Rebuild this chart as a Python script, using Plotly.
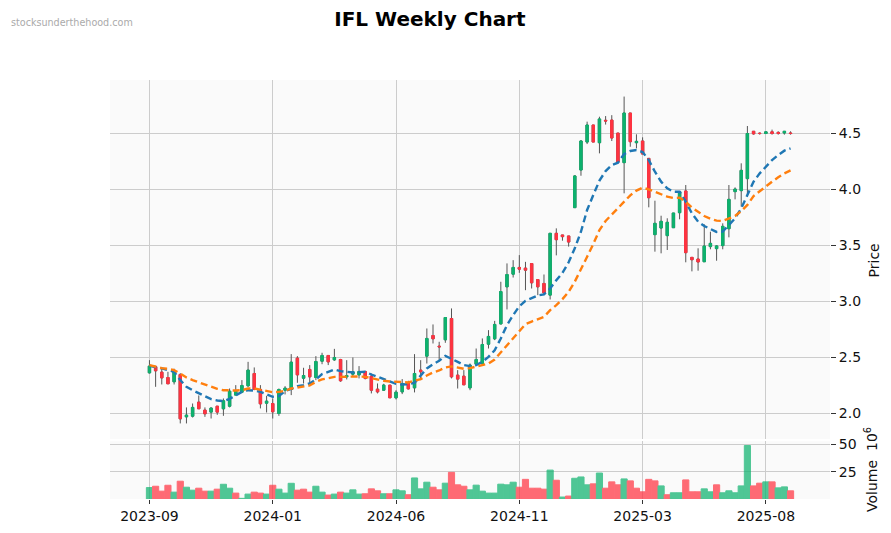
import plotly.graph_objects as go
from plotly.subplots import make_subplots

# weekly candles
opens = [2.363,2.417,2.369,2.321,2.283,2.348,1.970,1.976,2.101,2.030,
         2.012,2.065,2.042,2.065,2.164,2.190,2.247,2.357,2.214,2.092,
         2.089,2.000,2.208,2.214,2.494,2.315,2.393,2.321,2.467,2.518,
         2.479,2.482,2.327,2.351,2.345,2.375,2.333,2.217,2.208,2.253,
         2.140,2.193,2.274,2.229,2.387,2.512,2.696,2.601,2.658,2.848,
         2.342,2.333,2.229,2.440,2.446,2.619,2.667,2.800,3.131,3.244,
         3.304,3.298,3.339,3.196,3.161,3.057,3.609,3.594,3.585,3.838,
         4.174,4.424,4.576,4.418,4.618,4.620,4.504,4.240,4.683,4.418,
         4.433,4.278,3.597,3.656,3.588,3.659,3.793,3.987,3.394,3.379,
         3.355,3.490,3.472,3.499,3.650,3.981,3.990,4.097,4.520,4.503,
         4.500,4.515,4.510,4.505,4.505]
highs = [2.476,2.417,2.411,2.372,2.400,2.360,2.054,2.089,2.161,2.054,
         2.054,2.065,2.134,2.223,2.253,2.298,2.461,2.411,2.253,2.158,
         2.134,2.223,2.244,2.530,2.512,2.408,2.432,2.512,2.542,2.518,
         2.577,2.488,2.476,2.500,2.423,2.375,2.357,2.268,2.265,2.253,
         2.208,2.307,2.292,2.530,2.476,2.759,2.795,2.640,2.857,2.938,
         2.387,2.387,2.446,2.580,2.670,2.744,2.827,3.176,3.340,3.369,
         3.414,3.354,3.339,3.196,3.241,3.609,3.653,3.594,3.585,4.128,
         4.442,4.606,4.576,4.650,4.656,4.664,4.504,4.830,4.683,4.493,
         4.466,4.278,3.900,3.766,3.743,3.790,3.981,4.040,3.394,3.475,
         3.689,3.623,3.504,3.698,4.040,4.019,4.234,4.567,4.520,4.510,
         4.515,4.535,4.520,4.520,4.520]
lows = [2.357,2.238,2.259,2.265,2.259,1.911,1.911,1.964,2.042,1.970,
        1.955,1.988,1.979,2.054,2.164,2.190,2.238,2.208,2.045,2.009,
        1.955,1.979,2.170,2.164,2.274,2.268,2.274,2.298,2.440,2.432,
        2.470,2.283,2.304,2.333,2.313,2.304,2.179,2.179,2.202,2.140,
        2.125,2.173,2.214,2.188,2.298,2.446,2.625,2.476,2.631,2.313,
        2.223,2.256,2.208,2.432,2.432,2.580,2.655,2.795,2.929,3.214,
        3.256,3.101,3.116,3.057,3.071,3.018,3.412,3.543,3.490,3.835,
        4.123,4.406,4.424,4.323,4.580,4.433,4.246,3.966,4.382,4.368,
        4.317,3.841,3.445,3.430,3.460,3.659,3.734,3.350,3.269,3.275,
        3.355,3.466,3.364,3.466,3.573,3.912,3.847,3.936,4.490,4.490,
        4.500,4.490,4.490,4.490,4.490]
closes = [2.423,2.381,2.318,2.265,2.372,1.952,1.985,2.054,2.042,1.997,
          2.048,2.012,2.113,2.199,2.199,2.250,2.387,2.214,2.086,2.110,
          2.015,2.214,2.226,2.458,2.345,2.339,2.327,2.464,2.518,2.461,
          2.500,2.292,2.339,2.372,2.375,2.313,2.208,2.193,2.253,2.140,
          2.190,2.268,2.220,2.357,2.372,2.670,2.667,2.595,2.857,2.327,
          2.307,2.256,2.432,2.482,2.616,2.688,2.795,3.089,3.241,3.304,
          3.289,3.280,3.167,3.131,3.077,3.609,3.552,3.579,3.531,4.121,
          4.433,4.576,4.424,4.630,4.612,4.460,4.246,4.683,4.427,4.430,
          4.317,3.927,3.698,3.716,3.707,3.790,3.981,3.436,3.373,3.353,
          3.495,3.519,3.496,3.671,3.912,4.004,4.171,4.500,4.497,4.500,
          4.515,4.500,4.500,4.520,4.500]

ma_fast = [2.426,2.417,2.402,2.387,2.372,2.298,2.238,2.208,2.179,2.155,
           2.128,2.116,2.110,2.131,2.164,2.193,2.208,2.205,2.193,2.173,
           2.149,2.155,2.202,2.220,2.244,2.253,2.268,2.304,2.351,2.372,
           2.393,2.378,2.369,2.366,2.369,2.372,2.348,2.327,2.307,2.283,
           2.265,2.259,2.262,2.274,2.342,2.402,2.440,2.470,2.515,2.491,
           2.461,2.432,2.423,2.432,2.461,2.506,2.565,2.670,2.789,2.878,
           2.958,3.006,3.033,3.054,3.063,3.116,3.190,3.256,3.350,3.475,
           3.623,3.817,3.951,4.079,4.165,4.219,4.240,4.317,4.344,4.353,
           4.335,4.263,4.159,4.070,4.010,3.980,3.980,3.891,3.787,3.713,
           3.674,3.647,3.621,3.624,3.683,3.743,3.832,3.951,4.070,4.144,
           4.204,4.263,4.308,4.347,4.368]
ma_slow = [2.432,2.417,2.405,2.399,2.387,2.357,2.321,2.298,2.277,2.256,
           2.238,2.220,2.208,2.205,2.205,2.208,2.223,2.223,2.214,2.199,
           2.190,2.193,2.202,2.223,2.232,2.238,2.250,2.283,2.304,2.315,
           2.327,2.327,2.330,2.333,2.330,2.327,2.315,2.301,2.292,2.286,
           2.283,2.280,2.277,2.292,2.307,2.339,2.366,2.384,2.411,2.420,
           2.411,2.399,2.405,2.417,2.429,2.446,2.482,2.545,2.610,2.679,
           2.735,2.798,2.821,2.842,2.863,2.923,2.967,3.021,3.087,3.177,
           3.296,3.400,3.513,3.638,3.719,3.778,3.832,3.891,3.948,3.990,
           4.016,4.001,3.981,3.954,3.936,3.924,3.927,3.891,3.838,3.802,
           3.763,3.740,3.722,3.719,3.743,3.763,3.808,3.862,3.942,3.987,
           4.025,4.070,4.109,4.144,4.171]

# volume in millions, vol_up 1 = green bar
volumes = [10.5,11.7,7.2,12.6,6.3,16.3,10.8,8.1,9.9,7.2,
           7.2,9.0,13.5,9.9,5.4,0.6,4.5,6.3,5.4,4.5,
           12.6,9.0,5.4,14.4,8.1,9.0,6.3,11.7,6.3,3.6,
           4.5,6.3,5.4,8.4,4.5,4.8,9.3,7.5,4.8,4.8,
           8.4,7.5,3.9,19.3,9.3,15.4,10.8,8.4,14.5,24.4,
           13.0,11.7,8.4,12.7,7.2,5.4,5.4,13.6,13.0,15.4,
           10.8,18.0,9.9,9.9,9.0,26.5,17.2,1.8,2.7,19.0,
           20.2,13.0,13.9,23.8,9.9,15.7,13.0,18.4,16.6,9.9,
           6.6,18.0,16.6,12.0,3.9,5.7,5.7,17.5,6.6,6.6,
           9.3,6.6,13.0,5.7,7.5,5.7,12.0,49.0,12.0,14.5,
           15.7,15.7,10.2,11.1,7.5]
vol_up = [1,0,0,0,1,0,1,1,0,0,
          1,0,1,1,0,1,1,0,0,1,
          0,1,1,1,0,0,0,1,1,0,
          1,0,1,1,1,0,0,0,1,0,
          1,1,0,1,1,1,0,0,1,0,
          0,0,1,1,1,1,1,1,1,1,
          0,0,0,0,0,1,0,1,0,1,
          1,1,0,1,0,0,0,1,0,0,
          0,0,0,1,0,1,1,0,0,0,
          1,1,0,1,1,1,1,1,0,0,
          1,0,1,1,0]

tick_pos = [0, 20, 40, 60, 80, 100]
tick_labels = ["2023-09", "2024-01", "2024-06", "2024-11", "2025-03", "2025-08"]
price_ticks = [2.0, 2.5, 3.0, 3.5, 4.0, 4.5]
volume_ticks = [25, 50]

GREEN = "#0db26e"
RED = "#ff3340"
GRID = "#cccccc"
FONT = "DejaVu Sans"

x = list(range(len(opens)))
body_hi = [max(o, c) for o, c in zip(opens, closes)]
body_lo = [min(o, c) for o, c in zip(opens, closes)]

fig = make_subplots(rows=2, cols=1, shared_xaxes=True, vertical_spacing=0.005,
                    row_heights=[0.86, 0.14])

# wicks first in grey, then the coloured bodies on top
fig.add_trace(go.Candlestick(x=x, open=opens, high=highs, low=lows, close=closes,
                             whiskerwidth=0,
                             increasing=dict(line=dict(color="#555555", width=1), fillcolor="#555555"),
                             decreasing=dict(line=dict(color="#555555", width=1), fillcolor="#555555"),
                             showlegend=False), row=1, col=1)
fig.add_trace(go.Candlestick(x=x, open=opens, high=body_hi, low=body_lo, close=closes,
                             whiskerwidth=0,
                             increasing=dict(line=dict(color=GREEN, width=1), fillcolor=GREEN),
                             decreasing=dict(line=dict(color=RED, width=1), fillcolor=RED),
                             showlegend=False), row=1, col=1)
fig.add_trace(go.Scatter(x=x, y=ma_fast, mode="lines", showlegend=False,
                         line=dict(color="#1f77b4", width=2.4, dash="7px,4px")), row=1, col=1)
fig.add_trace(go.Scatter(x=x, y=ma_slow, mode="lines", showlegend=False,
                         line=dict(color="#ff7f0e", width=2.4, dash="7px,4px")), row=1, col=1)

bar_colors = [GREEN if u else RED for u in vol_up]
fig.add_trace(go.Bar(x=x, y=volumes, marker=dict(color=bar_colors, line=dict(color=bar_colors, width=1)),
                     opacity=0.72, width=1.0, showlegend=False), row=2, col=1)

fig.update_layout(
    width=891, height=533,
    margin=dict(l=110, r=61, t=80, b=34, autoexpand=False),
    paper_bgcolor="white",
    plot_bgcolor="#fafafa",
    boxgap=0.45,
    font=dict(family=FONT, size=14, color="#111111"),
    title=dict(text="<b>IFL Weekly Chart</b>", x=0.4825, xanchor="center", y=0.965, yanchor="middle",
               font=dict(family=FONT, size=20, color="black")),
    annotations=[
        dict(text="stocksunderthehood.com", xref="paper", yref="paper", x=-0.14, y=1.138,
             xanchor="left", yanchor="middle", showarrow=False, font=dict(size=9.6, color="#aaaaaa")),
        dict(text="Volume  10<sup>6</sup>", xref="paper", yref="paper", x=1.056, y=0.07,
             xanchor="center", yanchor="middle", textangle=-90, showarrow=False, font=dict(size=14)),
        dict(text="Price", xref="paper", yref="paper", x=1.0615, y=0.57,
             xanchor="center", yanchor="middle", textangle=-90, showarrow=False, font=dict(size=14)),
    ],
)
fig.update_xaxes(range=[-6.4, 110.4], showgrid=True, gridcolor=GRID, gridwidth=1.3, zeroline=False,
                 showline=False, tickmode="array", tickvals=tick_pos, ticktext=tick_labels,
                 rangeslider_visible=False)
fig.update_xaxes(ticks="outside", ticklen=4, tickcolor="#333333", row=2, col=1)
fig.update_yaxes(side="right", showgrid=True, gridcolor=GRID, gridwidth=1.3, zeroline=False, showline=False,
                 ticks="outside", ticklen=5, tickcolor="#333333")
fig.update_yaxes(range=[1.772, 4.978], tickmode="array", tickvals=price_ticks, tickformat=".1f", row=1, col=1)
fig.update_yaxes(range=[0, 53], tickmode="array", tickvals=volume_ticks, row=2, col=1)

# fix the panels to the pixel rows of the original figure
fig.update_layout(yaxis=dict(domain=[0.1432, 1.0]), yaxis2=dict(domain=[0.0, 0.138]))

fig.write_html("out.html", config=dict(displayModeBar=False), post_script="document.body.style.margin='0';")
